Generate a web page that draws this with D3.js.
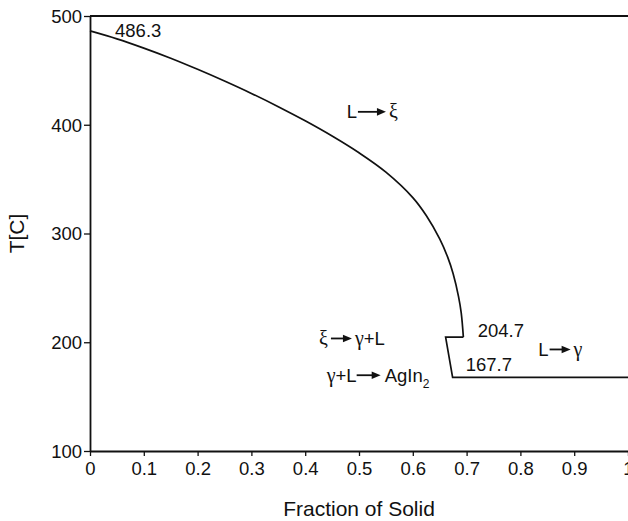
<!DOCTYPE html>
<html>
<head>
<meta charset="utf-8">
<script src="https://cdn.jsdelivr.net/npm/d3@7"></script>
<style>
  html, body { margin: 0; padding: 0; background: #fff; }
  svg { display: block; }
  text { font-family: "Liberation Sans", Arial, sans-serif; fill: #111; }
  .greek { font-family: "Liberation Serif", "Times New Roman", serif; }
</style>
</head>
<body>
<svg id="chart" width="628" height="521"></svg>
<script>
// Solidification path: liquidus curve (fraction of solid vs temperature)
const fracSolid = [0, 0.05, 0.1, 0.15, 0.2, 0.25, 0.3, 0.35, 0.4, 0.45, 0.5, 0.55, 0.6, 0.625, 0.65, 0.665, 0.675, 0.685, 0.69, 0.694];
const tempC     = [486.3, 479, 470.5, 461.2, 451, 440.2, 428.8, 416.6, 403.6, 389.6, 374.2, 356.4, 333, 316.5, 295, 278, 263, 242, 227, 204.7];

// Peritectic step and eutectic plateau
const stepFrac = [0.694, 0.661, 0.674, 1];
const stepTemp = [204.7, 204.7, 167.7, 167.7];

// Axis ticks
const xTicks = [0, 0.1, 0.2, 0.3, 0.4, 0.5, 0.6, 0.7, 0.8, 0.9, 1];
const yTicks = [100, 200, 300, 400, 500];

// Temperature labels
const tempLabels = [
  { text: "486.3", fx: 0.0465, t: 480.7 },
  { text: "204.7", fx: 0.7206, t: 205.1 },
  { text: "167.7", fx: 0.6983, t: 173.8 }
];

// Reaction labels: [left part, right part] joined by an arrow
const reactions = [
  { left: [["L", false]], right: [["ξ", true]], fx: 0.477, t: 405.9, gapL: 1, arrow: 28, gapR: 3 },
  { left: [["ξ", true]], right: [["γ", true], ["+L", false]], fx: 0.4257, t: 197.5, gapL: 3, arrow: 21, gapR: 3 },
  { left: [["γ", true], ["+L", false]], right: [["AgIn", false], ["2", false, "sub"]], fx: 0.44, t: 163.7, gapL: 0, arrow: 24, gapR: 4 },
  { left: [["L", false]], right: [["γ", true]], fx: 0.8333, t: 187.4, gapL: 1, arrow: 21, gapR: 3 }
];

const svg = d3.select("#chart");
const x = d3.scaleLinear().domain([0, 1]).range([90, 628]);
const y = d3.scaleLinear().domain([100, 500]).range([451, 16]);

// Top frame line
svg.append("line")
  .attr("x1", x(0)).attr("x2", x(1))
  .attr("y1", y(500)).attr("y2", y(500))
  .attr("stroke", "#111").attr("stroke-width", 1.8);

// X axis
const xAxis = svg.append("g")
  .attr("transform", `translate(0,${y(100)})`)
  .call(d3.axisBottom(x).tickValues(xTicks).tickFormat(d3.format("")).tickSize(5).tickSizeOuter(0));
xAxis.select(".domain").attr("stroke", "#111").attr("stroke-width", 1.8);
xAxis.selectAll(".tick line").attr("stroke", "#111").attr("stroke-width", 1.3);
xAxis.selectAll(".tick text")
  .attr("font-size", 18.5).attr("font-family", null).attr("dy", null).attr("y", 24);

// Y axis
const yAxis = svg.append("g")
  .attr("transform", `translate(${x(0)},0)`)
  .call(d3.axisLeft(y).tickValues(yTicks).tickSize(6).tickSizeOuter(0));
yAxis.select(".domain").attr("stroke", "#111").attr("stroke-width", 1.8);
yAxis.selectAll(".tick line").attr("stroke", "#111").attr("stroke-width", 1.3);
yAxis.selectAll(".tick text")
  .attr("font-size", 18.5).attr("font-family", null).attr("x", -8).attr("dy", "0.35em");
svg.selectAll(".tick text").style("fill", "#111");

// Axis titles
svg.append("text")
  .attr("x", x(0.5)).attr("y", 516)
  .attr("text-anchor", "middle").attr("font-size", 21)
  .text("Fraction of Solid");
svg.append("text")
  .attr("transform", `translate(24,${y(300)}) rotate(-90)`)
  .attr("text-anchor", "middle").attr("font-size", 21)
  .text("T[C]");

// Curve
const curvePts = fracSolid.map((f, i) => [f, tempC[i]]);
const stepPts = stepFrac.map((f, i) => [f, stepTemp[i]]);
svg.append("path")
  .attr("d", d3.line().x(d => x(d[0])).y(d => y(d[1])).curve(d3.curveCatmullRom.alpha(0.5))(curvePts))
  .attr("fill", "none").attr("stroke", "#111").attr("stroke-width", 1.7);
svg.append("path")
  .attr("d", d3.line().x(d => x(d[0])).y(d => y(d[1]))(stepPts))
  .attr("fill", "none").attr("stroke", "#111").attr("stroke-width", 1.7)
  .attr("stroke-linejoin", "miter");

// Temperature annotations
svg.selectAll("text.tlab").data(tempLabels).join("text")
  .attr("class", "tlab")
  .attr("x", d => x(d.fx)).attr("y", d => y(d.t))
  .attr("font-size", 18.5)
  .text(d => d.text);

// Reaction annotations with filled arrows
function writeParts(g, parts, x0, base) {
  let cx = x0;
  parts.forEach(([txt, greek, kind]) => {
    const t = g.append("text")
      .attr("x", cx)
      .attr("y", kind === "sub" ? base + 6 : base)
      .attr("font-size", kind === "sub" ? 12 : (greek ? 20 : 18.5))
      .attr("class", greek ? "greek" : null)
      .text(txt);
    cx += t.node().getComputedTextLength();
  });
  return cx;
}

reactions.forEach(r => {
  const g = svg.append("g");
  const bx = x(r.fx), base = y(r.t);
  let cx = writeParts(g, r.left, bx, base) + r.gapL;
  const ay = base - 6.5;
  const headLen = 9, headHalf = 3.8;
  g.append("line")
    .attr("x1", cx).attr("x2", cx + r.arrow - headLen + 1)
    .attr("y1", ay).attr("y2", ay)
    .attr("stroke", "#111").attr("stroke-width", 1.8);
  g.append("path")
    .attr("d", `M${cx + r.arrow},${ay} L${cx + r.arrow - headLen},${ay - headHalf} L${cx + r.arrow - headLen},${ay + headHalf} Z`)
    .attr("fill", "#111");
  cx += r.arrow + r.gapR;
  writeParts(g, r.right, cx, base);
});
</script>
</body>
</html>
